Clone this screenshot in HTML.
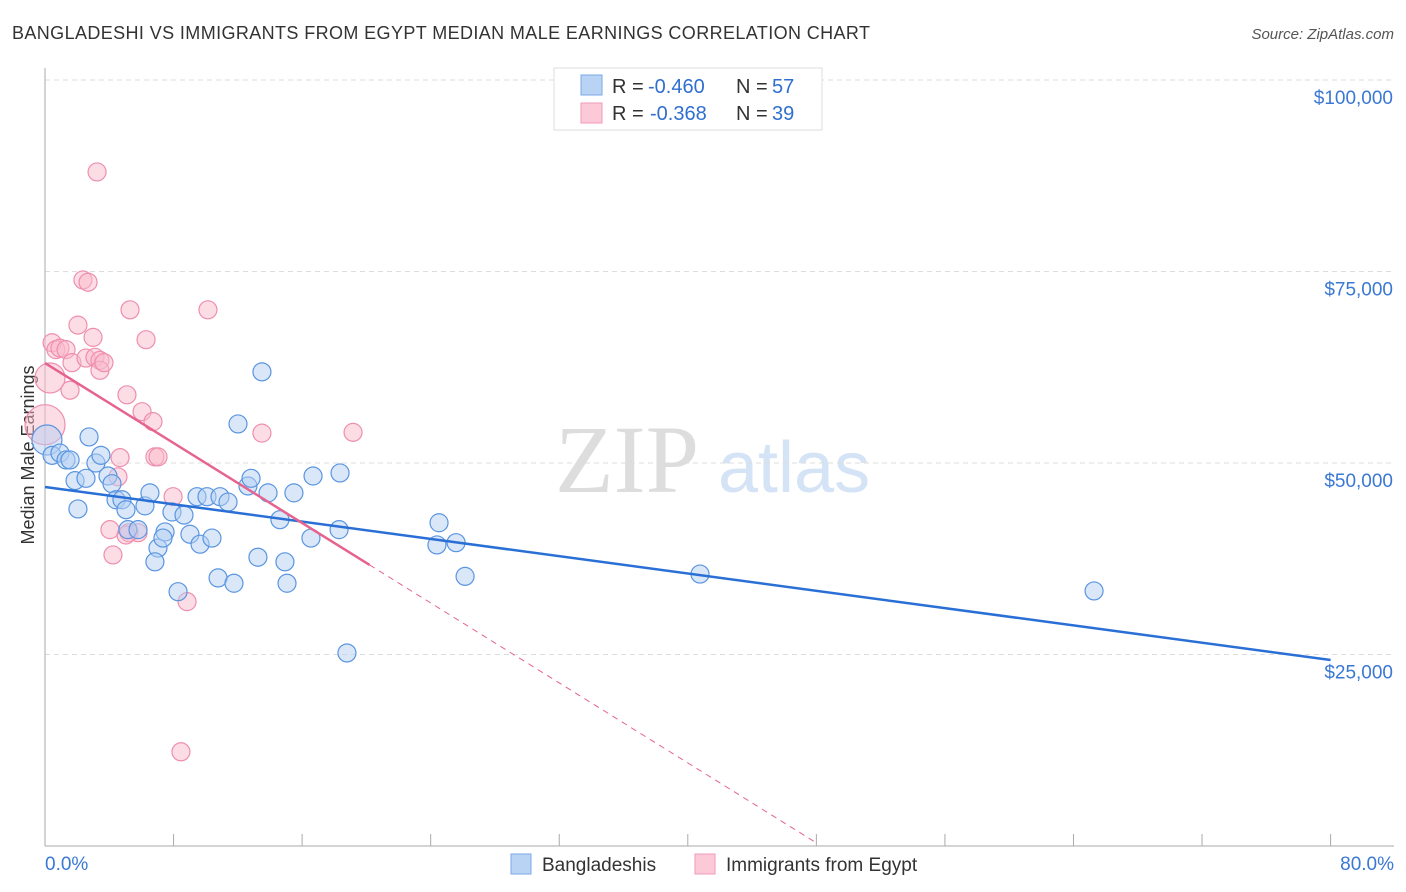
<!DOCTYPE html>
<html><head><meta charset="utf-8">
<style>
body{margin:0;background:#fff;font-family:"Liberation Sans",sans-serif;}
#wrap{position:relative;width:1406px;height:892px;overflow:hidden;}
</style></head>
<body>
<div id="wrap">
<svg id="svg" width="1406" height="892" xmlns="http://www.w3.org/2000/svg">
<text x="12" y="39" font-size="18" fill="#333" textLength="858">BANGLADESHI VS IMMIGRANTS FROM EGYPT MEDIAN MALE EARNINGS CORRELATION CHART</text>
<text x="1394" y="39" font-size="15" fill="#555" font-style="italic" text-anchor="end">Source: ZipAtlas.com</text>
<text x="34" y="455" font-size="18" fill="#333" text-anchor="middle" transform="rotate(-90 34 455)">Median Male Earnings</text>
<text x="555" y="492" font-size="96" fill="#ddd" font-family="Liberation Serif">ZIP</text>
<text x="718" y="492" font-size="72" fill="#d4e3f5">atlas</text>
<g id="grid"></g><g id="marks"></g>
<g>
<rect x="554" y="68" width="268" height="62" fill="#fff" stroke="#ddd"/>
<rect x="581" y="75" width="21" height="20" fill="#b9d3f5" stroke="#7aaae6"/>
<rect x="581" y="103" width="21" height="20" fill="#fcc9d8" stroke="#f09ab5"/>
<text x="612" y="93" font-size="20" fill="#333">R =</text>
<text x="648" y="93" font-size="20" fill="#2f6fd0">-0.460</text>
<text x="736" y="93" font-size="20" fill="#333">N =</text>
<text x="772" y="93" font-size="20" fill="#2f6fd0">57</text>
<text x="612" y="120" font-size="20" fill="#333">R =</text>
<text x="650" y="120" font-size="20" fill="#2f6fd0">-0.368</text>
<text x="736" y="120" font-size="20" fill="#333">N =</text>
<text x="772" y="120" font-size="20" fill="#2f6fd0">39</text>
</g>
<g>
<rect x="511" y="854" width="20" height="20" fill="#b9d3f5" stroke="#7aaae6"/>
<text x="542" y="871" font-size="19" fill="#333">Bangladeshis</text>
<rect x="695" y="854" width="20" height="20" fill="#fcc9d8" stroke="#f09ab5"/>
<text x="726" y="871" font-size="19" fill="#333">Immigrants from Egypt</text>
</g>
</svg>
</div>
<script>
const yTicks=[25000,50000,75000,100000];
const yTickLabels=["$25,000","$50,000","$75,000","$100,000"];
const xTickCount=[0,8,16,24,32,40,48,56,64,72,80];
const blueX=[0.12,0.44,0.93,1.31,1.56,2.74,3.17,3.48,1.87,2.05,2.55,3.92,4.17,4.42,4.79,5.04,6.22,6.53,7.03,6.84,7.47,7.34,7.90,8.28,8.65,9.02,9.46,9.65,10.08,10.39,10.77,10.89,11.39,11.76,12.01,12.63,12.82,13.25,13.50,13.88,14.62,14.93,15.06,15.49,16.55,16.68,18.30,18.36,18.79,24.39,24.52,25.58,26.14,40.76,65.28,5.16,5.79];
const blueY=[53.0,51.0,51.3,50.4,50.4,53.4,50.0,51.0,47.7,44.0,48.0,48.3,47.3,45.2,45.2,43.9,44.4,46.1,38.9,37.1,41.0,40.2,43.6,33.2,43.2,40.7,45.6,39.4,45.6,40.2,35.0,45.6,44.9,34.3,55.1,47.0,48.0,37.7,61.9,46.1,42.6,37.1,34.3,46.1,40.2,48.3,41.3,48.7,25.2,39.3,42.2,39.6,35.2,35.5,33.3,41.3,41.3];
const pinkX=[0,0.31,0.44,0.68,0.93,1.31,1.56,1.68,2.05,2.36,2.68,2.55,2.99,3.11,3.42,3.42,3.67,3.24,4.54,4.23,5.10,5.29,6.04,6.29,6.72,6.84,7.03,5.23,5.79,5.04,7.97,8.46,8.84,10.14,13.50,19.17,4.67,4.04];
const pinkY=[55.0,61.1,65.7,64.8,65.0,64.8,59.5,63.1,68.0,73.9,73.6,63.7,66.4,63.8,63.4,62.1,63.1,88.0,48.2,38.0,58.9,70.0,56.7,66.1,55.4,50.8,50.8,40.9,40.9,40.6,45.6,12.3,31.9,70.0,53.9,54.0,50.7,41.3];
const blueTrend=[46.87,24.28];
const pinkTrend=[63.05,-1.305];
const NS="http://www.w3.org/2000/svg";
function sx(p){return 45+p*16.07;}
function sy(v){return 846-v*0.00766;}
function mk(t,a,par){const e=document.createElementNS(NS,t);for(const k in a)e.setAttribute(k,a[k]);par.appendChild(e);return e;}
const grid=document.getElementById('grid'),marks=document.getElementById('marks');
yTicks.forEach((v,i)=>{
 const l=mk('line',{x1:45,x2:1394,y1:sy(v),y2:sy(v),stroke:'#ddd','stroke-dasharray':'5,4'},grid);
 
 
 const t=mk('text',{x:1393,y:sy(v)+24,'font-size':19,fill:'#3a78d4','text-anchor':'end'},grid);
 t.textContent=yTickLabels[i];
 
 
});
const ax=mk('line',{x1:45,x2:45,y1:68,y2:846,stroke:'#aaa'},grid);


const bx=mk('line',{x1:45,x2:1394,y1:846,y2:846,stroke:'#aaa'},grid);


xTickCount.forEach(p=>{
 const t=mk('line',{x1:sx(p),x2:sx(p),y1:834,y2:846,stroke:'#aaa'},grid);
 
 
});
const x0=mk('text',{x:45,y:870,'font-size':19,fill:'#3a78d4'},grid);x0.textContent='0.0%';


const x1=mk('text',{x:1394,y:870,'font-size':19,fill:'#3a78d4','text-anchor':'end'},grid);x1.textContent='80.0%';


function dots(X,Y,fill,stroke,name){
 X.forEach((x,i)=>{
  let r=9;
  if(i===0)r=(name==='pink-point')?20:15;
  if(name==='pink-point'&&i===1)r=15;
  const c=mk('circle',{cx:sx(x),cy:sy(Y[i]*1000),r:r,fill:fill,'fill-opacity':0.5,stroke:stroke,'stroke-width':1.2},marks);
  
  
 });
}
dots(pinkX,pinkY,'#f9b9cc','#ee8fae','pink-point');
dots(blueX,blueY,'#b3d0f3','#5a95e0','blue-point');
const bl=mk('line',{x1:sx(0),y1:sy(blueTrend[0]*1000),x2:sx(80),y2:sy(blueTrend[1]*1000),stroke:'#2a6fd6','stroke-width':2.5},marks);


const pe=20.2,pd=48;
const pl=mk('line',{x1:sx(0),y1:sy(pinkTrend[0]*1000),x2:sx(pe),y2:sy((pinkTrend[0]+pinkTrend[1]*pe)*1000),stroke:'#e5638e','stroke-width':2.5},marks);


const pdl=mk('line',{x1:sx(pe),y1:sy((pinkTrend[0]+pinkTrend[1]*pe)*1000),x2:sx(pd),y2:sy((pinkTrend[0]+pinkTrend[1]*pd)*1000),stroke:'#e5638e','stroke-width':1,'stroke-dasharray':'6,5'},marks);


</script>
</body></html>
